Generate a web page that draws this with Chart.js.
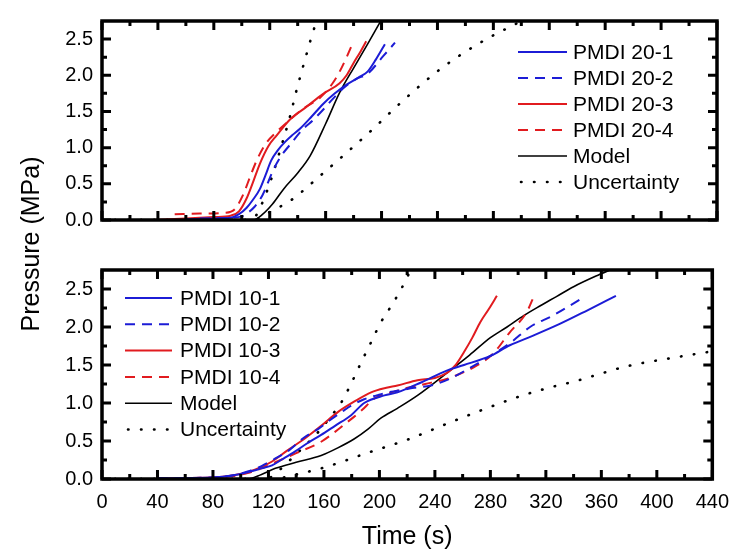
<!DOCTYPE html>
<html>
<head>
<meta charset="utf-8">
<script src="https://cdn.jsdelivr.net/npm/chart.js@4/dist/chart.umd.min.js"></script>
<style>
  html, body { margin: 0; padding: 0; background: #fff; }
  #wrap { position: relative; width: 740px; height: 552px; }
  #wrap canvas { position: absolute; left: 0; top: 0; }
</style>
</head>
<body>
<div id="wrap">
  <canvas id="lower" width="740" height="552"></canvas>
  <canvas id="upper" width="740" height="552"></canvas>
</div>
<script>
// Axis ticks
const timeTicks = [0, 40, 80, 120, 160, 200, 240, 280, 320, 360, 400, 440];
const pressureTicks = [0, 0.5, 1.0, 1.5, 2.0, 2.5];
const timeTitle = 'Time (s)';
const pressureTitle = 'Pressure (MPa)';

// PMDI 20 tests (time in s, pressure in MPa)
const t20_1 = [60, 80, 92, 98, 103.5, 108, 113, 117, 121, 126, 131, 136, 141.6, 150, 158, 166, 175, 184.5, 190, 196, 202.4];
const p20_1 = [0.01, 0.02, 0.03, 0.08, 0.17, 0.28, 0.43, 0.62, 0.82, 0.97, 1.08, 1.17, 1.26, 1.43, 1.6, 1.74, 1.87, 1.98, 2.05, 2.22, 2.43];
const t20_2 = [70, 90, 100, 103.5, 109, 115, 122.5, 128, 134.5, 144, 151, 158, 165, 172.6, 182, 190, 201, 209.6];
const p20_2 = [0.02, 0.03, 0.05, 0.09, 0.18, 0.35, 0.69, 0.88, 1.04, 1.26, 1.38, 1.52, 1.67, 1.82, 1.95, 2.02, 2.26, 2.45];
const t20_3 = [36, 60, 80, 92, 98, 103.5, 108, 113, 119, 125, 134.5, 146, 158, 170, 175, 180, 185, 189];
const p20_3 = [0.0, 0.02, 0.04, 0.06, 0.12, 0.3, 0.52, 0.78, 1.02, 1.17, 1.39, 1.56, 1.74, 1.89, 2.0, 2.17, 2.33, 2.47];
const t20_4 = [52, 70, 88, 95, 101, 106, 110.6, 117, 124, 133, 144, 156, 165, 170, 175, 180];
const p20_4 = [0.08, 0.09, 0.1, 0.15, 0.35, 0.6, 0.82, 1.05, 1.2, 1.36, 1.54, 1.69, 1.89, 2.05, 2.25, 2.47];
const t20_model = [0, 100, 108, 115, 122, 130, 140, 149, 160, 170, 180, 190, 200, 210];
const p20_model = [0, 0, 0, 0.08, 0.22, 0.43, 0.65, 0.89, 1.33, 1.76, 2.1, 2.43, 2.77, 3.1];
const t20_uncHi = [0, 100, 108, 115, 121.5, 128, 134.5, 139, 145, 151, 160];
const p20_uncHi = [0, 0, 0.02, 0.25, 0.59, 1.0, 1.43, 1.78, 2.2, 2.6, 3.1];
const t20_uncLo = [0, 105, 112, 120, 135, 156, 175, 194, 212, 239, 258, 277, 294, 305];
const p20_uncLo = [0, 0, 0.02, 0.11, 0.27, 0.61, 0.93, 1.26, 1.59, 2.04, 2.3, 2.52, 2.69, 2.8];

// PMDI 10 tests
const t10_1 = [40, 80, 95, 105, 115, 122.6, 130, 139, 148, 158, 168, 179.6, 189, 203.6, 213, 230, 249, 261, 280, 294, 310, 330, 350, 370.5];
const p10_1 = [0.01, 0.02, 0.05, 0.09, 0.14, 0.18, 0.26, 0.36, 0.47, 0.58, 0.7, 0.84, 1.0, 1.1, 1.14, 1.27, 1.43, 1.5, 1.62, 1.76, 1.88, 2.04, 2.22, 2.41];
const t10_2 = [40, 80, 95, 105, 115, 125, 135, 146, 156, 164, 172.6, 180, 189, 198, 206, 213, 225, 237, 251, 265, 280, 295, 308.6, 325, 348];
const p10_2 = [0.01, 0.02, 0.05, 0.1, 0.17, 0.27, 0.38, 0.55, 0.66, 0.77, 0.88, 0.97, 1.05, 1.1, 1.14, 1.16, 1.2, 1.23, 1.32, 1.46, 1.62, 1.8, 2.0, 2.15, 2.4];
const t10_3 = [40, 80, 95, 105, 115, 122.6, 134, 146, 158, 170, 182, 194, 205, 213, 227.5, 240, 249, 255, 261, 267, 272.6, 279, 284.7];
const p10_3 = [0.01, 0.02, 0.05, 0.09, 0.16, 0.23, 0.38, 0.53, 0.7, 0.88, 1.02, 1.14, 1.2, 1.23, 1.3, 1.33, 1.4, 1.5, 1.67, 1.86, 2.06, 2.24, 2.41];
const t10_4 = [40, 80, 95, 105, 115, 125, 140, 158, 168, 177, 187, 196.5, 207, 218, 233, 249, 260, 270, 282, 294, 306, 312];
const p10_4 = [0.01, 0.02, 0.04, 0.08, 0.14, 0.22, 0.34, 0.49, 0.62, 0.75, 0.9, 1.06, 1.13, 1.19, 1.25, 1.32, 1.4, 1.49, 1.65, 1.93, 2.19, 2.43];
const t10_model = [0, 105, 115, 125, 140, 158, 170, 182, 192, 201, 213, 227.5, 249, 265, 280, 292, 304, 316, 327.6, 340, 358.6, 370];
const p10_model = [0, 0, 0.06, 0.14, 0.22, 0.31, 0.41, 0.53, 0.66, 0.8, 0.93, 1.1, 1.4, 1.63, 1.86, 2.0, 2.15, 2.28, 2.4, 2.53, 2.69, 2.78];
const t10_uncHi = [0, 118, 128, 139, 147, 156, 164, 172.6, 180, 187, 194, 201, 210, 218, 225];
const p10_uncHi = [0, 0, 0.12, 0.31, 0.45, 0.62, 0.8, 1.01, 1.27, 1.54, 1.8, 2.06, 2.32, 2.58, 2.85];
const t10_uncLo = [0, 125, 135, 158, 194, 222, 249, 270, 296.6, 320, 344, 360, 380, 410, 440];
const p10_uncLo = [0, 0, 0.04, 0.14, 0.36, 0.53, 0.73, 0.88, 1.06, 1.19, 1.3, 1.39, 1.49, 1.59, 1.68];

const FONT = '"Liberation Sans", Arial, Helvetica, sans-serif';
const BLUE = '#1c1cd6';
const RED = '#e11b1f';
const DASH = [10, 7];
const DOTS = [0.5, 12.5];

Chart.defaults.font.family = FONT;
Chart.defaults.color = '#000';

const pts = (t, p) => t.map((v, i) => ({ x: v, y: p[i] }));

function series(label, t, p, color, dash, width, inLegend = true) {
  const dotted = dash === DOTS;
  return {
    label,
    data: pts(t, p),
    borderColor: color,
    backgroundColor: color,
    borderWidth: width,
    borderDash: dash,
    borderCapStyle: dotted ? 'round' : 'butt',
    pointRadius: 0,
    fill: false,
    cubicInterpolationMode: 'monotone',
    inLegend
  };
}

// Closed frame with inward major/minor ticks on all four sides
const framePlugin = {
  id: 'frame',
  afterDatasetsDraw(chart) {
    const { ctx, chartArea: a, scales: { x, y } } = chart;
    const mid = arr => arr.slice(1).map((v, i) => (v + arr[i]) / 2);
    const yMinor = mid(pressureTicks).concat([pressureTicks[pressureTicks.length - 1] + (pressureTicks[1] - pressureTicks[0]) / 2]);
    ctx.save();
    ctx.strokeStyle = '#000';
    ctx.lineWidth = 3;
    ctx.lineCap = 'butt';
    ctx.beginPath();
    const xTick = (v, len) => {
      const px = x.getPixelForValue(v);
      ctx.moveTo(px, a.bottom); ctx.lineTo(px, a.bottom - len);
      ctx.moveTo(px, a.top); ctx.lineTo(px, a.top + len);
    };
    const yTick = (v, len) => {
      const py = y.getPixelForValue(v);
      if (py < a.top + 1) return;
      ctx.moveTo(a.left, py); ctx.lineTo(a.left + len, py);
      ctx.moveTo(a.right, py); ctx.lineTo(a.right - len, py);
    };
    timeTicks.forEach(v => xTick(v, 9));
    mid(timeTicks).forEach(v => xTick(v, 5));
    pressureTicks.forEach(v => yTick(v, 9));
    yMinor.forEach(v => yTick(v, 5));
    ctx.stroke();
    ctx.lineWidth = 3.5;
    ctx.strokeRect(a.left, a.top, a.right - a.left, a.bottom - a.top);
    ctx.restore();
  }
};

// Legend with line samples drawn from each dataset's own style
const lineLegendPlugin = {
  id: 'lineLegend',
  afterDraw(chart, args, opts) {
    const { ctx } = chart;
    ctx.save();
    ctx.font = '21px ' + FONT;
    ctx.textBaseline = 'middle';
    ctx.textAlign = 'left';
    let row = 0;
    chart.data.datasets.forEach(d => {
      if (!d.inLegend) return;
      const yy = opts.top + row * opts.rowHeight;
      const dotted = d.borderCapStyle === 'round';
      ctx.beginPath();
      ctx.strokeStyle = d.borderColor;
      ctx.lineWidth = d.borderWidth;
      ctx.lineCap = d.borderCapStyle;
      ctx.setLineDash(d.borderDash || []);
      ctx.moveTo(opts.left + (dotted ? 3 : 0), yy);
      ctx.lineTo(opts.left + opts.sample, yy);
      ctx.stroke();
      ctx.setLineDash([]);
      ctx.fillStyle = '#000';
      ctx.fillText(d.label, opts.left + opts.sample + opts.gap, yy + 1);
      row++;
    });
    ctx.restore();
  }
};

// Shared vertical title for both panels
const sideTitlePlugin = {
  id: 'sideTitle',
  afterDraw(chart, args, opts) {
    const { ctx } = chart;
    ctx.save();
    ctx.font = '25px ' + FONT;
    ctx.fillStyle = '#000';
    ctx.textAlign = 'center';
    ctx.textBaseline = 'middle';
    ctx.translate(opts.x, opts.y);
    ctx.rotate(-Math.PI / 2);
    ctx.fillText(opts.text, 0, 0);
    ctx.restore();
  }
};

function makeScales(showTime) {
  return {
    x: {
      type: 'linear',
      min: 0,
      max: 440,
      afterBuildTicks: s => { s.ticks = timeTicks.map(v => ({ value: v })); },
      afterFit: s => { s.height = showTime ? 73 : 0; },
      grid: { display: false, drawTicks: false },
      border: { display: false },
      ticks: {
        display: showTime,
        padding: 11,
        maxRotation: 0,
        autoSkip: false,
        font: { size: 20 },
        callback: v => String(v)
      },
      title: {
        display: showTime,
        text: timeTitle,
        font: { size: 25 },
        padding: { top: 0, bottom: 0 }
      }
    },
    y: {
      type: 'linear',
      min: 0,
      max: 2.75,
      afterBuildTicks: s => { s.ticks = pressureTicks.map(v => ({ value: v })); },
      afterFit: s => { s.width = 102; },
      grid: { display: false, drawTicks: false },
      border: { display: false },
      ticks: {
        padding: 9,
        autoSkip: false,
        font: { size: 20 },
        callback: v => v.toFixed(1)
      }
    }
  };
}

const common = {
  responsive: false,
  animation: false,
  devicePixelRatio: 1,
  plugins: { legend: { display: false }, tooltip: { enabled: false } }
};

new Chart(document.getElementById('upper'), {
  type: 'line',
  data: {
    datasets: [
      series('PMDI 20-1', t20_1, p20_1, BLUE, [], 2),
      series('PMDI 20-2', t20_2, p20_2, BLUE, DASH, 2),
      series('PMDI 20-3', t20_3, p20_3, RED, [], 2),
      series('PMDI 20-4', t20_4, p20_4, RED, DASH, 2),
      series('Model', t20_model, p20_model, '#000', [], 1.6),
      series('Uncertainty', t20_uncHi, p20_uncHi, '#000', DOTS, 2.6),
      series('Uncertainty', t20_uncLo, p20_uncLo, '#000', DOTS, 2.6, false)
    ]
  },
  options: Object.assign({}, common, {
    layout: { padding: { left: 0, right: 23, top: 10, bottom: 332 } },
    scales: makeScales(false),
    plugins: Object.assign({}, common.plugins, {
      lineLegend: { left: 518, top: 52, rowHeight: 26, sample: 49, gap: 6 }
    })
  }),
  plugins: [framePlugin, lineLegendPlugin]
});

new Chart(document.getElementById('lower'), {
  type: 'line',
  data: {
    datasets: [
      series('PMDI 10-1', t10_1, p10_1, BLUE, [], 2),
      series('PMDI 10-2', t10_2, p10_2, BLUE, DASH, 2),
      series('PMDI 10-3', t10_3, p10_3, RED, [], 2),
      series('PMDI 10-4', t10_4, p10_4, RED, DASH, 2),
      series('Model', t10_model, p10_model, '#000', [], 1.6),
      series('Uncertainty', t10_uncHi, p10_uncHi, '#000', DOTS, 2.6),
      series('Uncertainty', t10_uncLo, p10_uncLo, '#000', DOTS, 2.6, false)
    ]
  },
  options: Object.assign({}, common, {
    layout: { padding: { left: 0, right: 23, top: 270, bottom: 0 } },
    scales: makeScales(true),
    plugins: Object.assign({}, common.plugins, {
      lineLegend: { left: 125, top: 298, rowHeight: 26.3, sample: 47, gap: 8 },
      sideTitle: { x: 32, y: 244, text: pressureTitle }
    })
  }),
  plugins: [framePlugin, lineLegendPlugin, sideTitlePlugin]
});
</script>
</body>
</html>
